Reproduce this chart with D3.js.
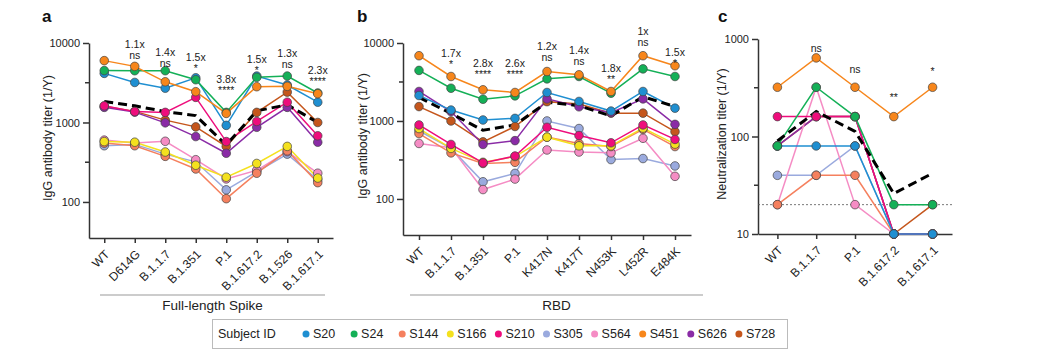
<!DOCTYPE html>
<html>
<head>
<meta charset="utf-8">
<script src="https://cdn.jsdelivr.net/npm/d3@7"></script>
<style>
  html, body { margin: 0; padding: 0; background: #fff; }
  svg { display: block; font-family: "Liberation Sans", Arial, Helvetica, sans-serif; }
</style>
</head>
<body>
<svg id="chart" width="1040" height="358"></svg>
<script>
// ---------------- DATA ----------------
const subjects = ["S20","S24","S144","S166","S210","S305","S564","S451","S626","S728"];
const subjectColors = ["#1f8fd1","#14b057","#f5805e","#f4e11e","#ee0d7c","#9aaade","#f58cc4","#f7861b","#8a2ba6","#c5561c"];
const drawOrder = ["S728","S626","S305","S564","S144","S166","S210","S20","S24","S451"];

// Panel a: full-length Spike IgG titers
const catsA = ["WT","D614G","B.1.1.7","B.1.351","P.1","B.1.617.2","B.1.526","B.1.617.1"];
const a_S20  = [4150, 3190, 2700, 3650, 920, 3840, 2960, 1800];
const a_S24  = [4500, 4480, 4480, 3450, 1340, 3700, 3840, 2350];
const a_S144 = [550, 510, 375, 260, 110, 230, 440, 175];
const a_S166 = [575, 565, 425, 290, 205, 305, 500, 200];
const a_S210 = [1620, 1370, 1340, 2070, 575, 1030, 1800, 680];
const a_S305 = [510, 530, 400, 320, 142, 240, 400, 190];
const a_S564 = [600, 550, 580, 340, 195, 250, 430, 230];
const a_S451 = [6000, 5080, 3250, 2440, 1300, 2820, 2850, 2300];
const a_S626 = [1550, 1350, 990, 665, 410, 870, 1550, 565];
const a_S728 = [1600, 1380, 1070, 880, 500, 1340, 2410, 1000];
const a_mean = [1840, 1620, 1370, 1220, 520, 1400, 1670, 1000];
const a_fold = ["", "1.1x", "1.4x", "1.5x", "3.8x", "1.5x", "1.3x", "2.3x"];
const a_sig  = ["", "ns", "ns", "*", "****", "*", "ns", "****"];
const a_labelAt = [null, 8650, 6960, 5920, 3150, 5580, 6650, 4020];

// Panel b: RBD IgG titers
const catsB = ["WT","B.1.1.7","B.1.351","P.1","K417N","K417T","N453K","L452R","E484K"];
const b_S20  = [2120, 1380, 1030, 1080, 2320, 1780, 1340, 2390, 1460];
const b_S24  = [4450, 2630, 1900, 2100, 3470, 3720, 2270, 4660, 3720];
const b_S144 = [690, 390, 285, 295, 620, 515, 470, 780, 470];
const b_S166 = [800, 445, 295, 350, 620, 480, 480, 810, 505];
const b_S210 = [890, 500, 290, 355, 830, 650, 525, 890, 580];
const b_S305 = [750, 445, 166, 213, 1000, 800, 320, 330, 265];
const b_S564 = [515, 455, 132, 180, 425, 400, 390, 600, 195];
const b_S451 = [6870, 3720, 2510, 2320, 4310, 3910, 2390, 6870, 5110];
const b_S626 = [2390, 1320, 500, 560, 1920, 1520, 1280, 1920, 905];
const b_S728 = [1530, 1000, 540, 850, 1770, 1650, 1260, 1260, 730];
const b_mean = [2000, 1250, 760, 890, 1740, 1570, 1160, 2050, 1530];
const b_fold = ["", "1.7x", "2.8x", "2.6x", "1.2x", "1.4x", "1.8x", "1x", "1.5x"];
const b_sig  = ["", "*", "****", "****", "ns", "ns", "**", "ns", "*"];
const b_labelAt = [null, 6640, 4940, 4940, 8250, 7180, 4260, 12490, 6830];

// Panel c: neutralization titers
const catsC = ["WT","B.1.1.7","P.1","B.1.617.2","B.1.617.1"];
const c_S20  = [80, 80, 80, 10, 10];
const c_S24  = [80, 320, 160, 20, 20];
const c_S144 = [20, 40, 40, 10, 10];
const c_S166 = [null, null, null, null, null];
const c_S210 = [160, 160, 160, 10, 10];
const c_S305 = [40, 40, 80, 10, 10];
const c_S564 = [20, 320, 20, 10, 10];
const c_S451 = [320, 640, 320, 160, 320];
const c_S626 = [80, 160, 160, 10, 10];
const c_S728 = [80, 160, 160, 10, 20];
const c_mean = [90, 180, 113, 26, 42];
const c_fold = ["", "", "", "", ""];
const c_sig  = ["", "ns", "ns", "**", "*"];
const c_labelAt = [null, 736, 448, 231, 423];
const c_limit = 20;

const yTicksAB = [100, 1000, 10000];
const yMinorAB = [316.2, 3162];
const yTicksC = [10, 100, 1000];
const yMinorC = [31.62, 316.2];

// ---------------- DRAWING ----------------
const svg = d3.select("#chart");
const colorOf = d3.scaleOrdinal(subjects, subjectColors);
const textCol = "#222";
const axisCol = "#333";

function panel(o) {
  const g = svg.append("g");
  const x = d3.scalePoint(o.cats, o.xr).padding(0.5);
  const y = d3.scaleLog(o.yd, o.yr);

  // y axis
  const ya = g.append("g").attr("transform", `translate(${o.xr[0]},0)`)
    .call(d3.axisLeft(y).tickValues(o.yTicks).tickFormat(d3.format("d")).tickSize(6).tickSizeOuter(0).tickPadding(3));
  ya.selectAll("text").attr("font-size", 11).attr("fill", textCol).attr("font-family", null);
  ya.selectAll("line,path").attr("stroke", axisCol).attr("stroke-width", 1.5);
  ya.selectAll(".minor").data(o.yMinor).enter().append("line")
    .attr("x1", -4).attr("x2", 0).attr("y1", d => y(d)).attr("y2", d => y(d))
    .attr("stroke", axisCol).attr("stroke-width", 1.5);

  // x axis
  const xa = g.append("g").attr("transform", `translate(0,${o.yr[0]})`)
    .call(d3.axisBottom(x).tickSize(5).tickSizeOuter(0).tickFormat(""));
  xa.selectAll("line,path").attr("stroke", axisCol).attr("stroke-width", 1.5);
  g.selectAll(".xl").data(o.cats).enter().append("text")
    .attr("transform", d => `translate(${x(d) + 6},${o.yr[0] + 17}) rotate(-45)`)
    .attr("text-anchor", "end").attr("font-size", 12).attr("fill", textCol).text(d => d);

  // limit line
  if (o.limit != null) {
    g.append("line").attr("x1", o.xr[0]).attr("x2", o.xr[1])
      .attr("y1", y(o.limit)).attr("y2", y(o.limit))
      .attr("stroke", "#555").attr("stroke-width", 0.8).attr("stroke-dasharray", "2,2");
  }

  const line = d3.line().defined(d => d.v != null).x(d => x(d.c)).y(d => y(d.v));
  const series = drawOrder.map(s => ({ s, pts: o.cats.map((c, i) => ({ c, v: o.data[s][i] })) }));

  series.forEach(se => {
    g.append("path").datum(se.pts).attr("d", line)
      .attr("fill", "none").attr("stroke", colorOf(se.s)).attr("stroke-width", 1.5);
  });

  // mean dashed
  g.append("path").datum(o.cats.map((c, i) => ({ c, v: o.mean[i] }))).attr("d", line)
    .attr("fill", "none").attr("stroke", "#000").attr("stroke-width", 3).attr("stroke-dasharray", "9,5");

  series.forEach(se => {
    g.selectAll(null).data(se.pts.filter(d => d.v != null)).enter().append("circle")
      .attr("cx", d => x(d.c)).attr("cy", d => y(d.v)).attr("r", 4.3)
      .attr("fill", colorOf(se.s)).attr("stroke", "#444").attr("stroke-width", 0.7);
  });

  // annotations
  o.cats.forEach((c, i) => {
    if (o.labelAt[i] == null) return;
    const yy = y(o.labelAt[i]);
    if (o.fold[i]) {
      g.append("text").attr("x", x(c)).attr("y", yy).attr("text-anchor", "middle")
        .attr("font-size", 10.5).attr("fill", textCol).text(o.fold[i]);
      g.append("text").attr("x", x(c)).attr("y", yy + 11).attr("text-anchor", "middle")
        .attr("font-size", 10.5).attr("fill", textCol).text(o.sig[i]);
    } else {
      g.append("text").attr("x", x(c)).attr("y", yy).attr("text-anchor", "middle")
        .attr("font-size", 10.5).attr("fill", textCol).text(o.sig[i]);
    }
  });

  // y title
  g.append("text").attr("transform", `translate(${o.titleX},${o.titleY}) rotate(-90)`)
    .attr("text-anchor", "middle").attr("font-size", 12.5).attr("fill", textCol).text(o.title);

  // panel letter
  svg.append("text").attr("x", o.letterX).attr("y", 22).attr("font-size", 17)
    .attr("font-weight", "bold").attr("fill", "#111").text(o.letter);

  // bracket
  if (o.bracket) {
    g.append("line").attr("x1", o.bracket[0]).attr("x2", o.bracket[1])
      .attr("y1", 295).attr("y2", 295).attr("stroke", "#999").attr("stroke-width", 1.2);
    g.append("text").attr("x", (o.bracket[0] + o.bracket[1]) / 2).attr("y", 310)
      .attr("text-anchor", "middle").attr("font-size", 13.5).attr("fill", textCol).text(o.bracketLabel);
  }
}

function collect(prefix) {
  const src = {
    a: {S20:a_S20,S24:a_S24,S144:a_S144,S166:a_S166,S210:a_S210,S305:a_S305,S564:a_S564,S451:a_S451,S626:a_S626,S728:a_S728},
    b: {S20:b_S20,S24:b_S24,S144:b_S144,S166:b_S166,S210:b_S210,S305:b_S305,S564:b_S564,S451:b_S451,S626:b_S626,S728:b_S728},
    c: {S20:c_S20,S24:c_S24,S144:c_S144,S166:c_S166,S210:c_S210,S305:c_S305,S564:c_S564,S451:c_S451,S626:c_S626,S728:c_S728}
  };
  return src[prefix];
}

panel({ cats: catsA, data: collect("a"), mean: a_mean, fold: a_fold, sig: a_sig, labelAt: a_labelAt,
  xr: [89, 333], yd: [35.2, 10000], yr: [238, 43], yTicks: yTicksAB, yMinor: yMinorAB,
  title: "IgG antibody titer (1/Y)", titleX: 52, titleY: 138, letter: "a", letterX: 42,
  bracket: [100, 325], bracketLabel: "Full-length Spike" });

panel({ cats: catsB, data: collect("b"), mean: b_mean, fold: b_fold, sig: b_sig, labelAt: b_labelAt,
  xr: [403, 691], yd: [34.5, 10000], yr: [235, 43], yTicks: yTicksAB, yMinor: yMinorAB,
  title: "IgG antibody titer (1/Y)", titleX: 367, titleY: 136, letter: "b", letterX: 357,
  bracket: [410, 703], bracketLabel: "RBD" });

panel({ cats: catsC, data: collect("c"), mean: c_mean, fold: c_fold, sig: c_sig, labelAt: c_labelAt,
  xr: [758, 952], yd: [10, 1000], yr: [234, 39], yTicks: yTicksC, yMinor: yMinorC, limit: c_limit,
  title: "Neutralization titer (1/Y)", titleX: 726, titleY: 134, letter: "c", letterX: 718 });

// legend
const lg = svg.append("g");
lg.append("rect").attr("x", 212.5).attr("y", 319.5).attr("width", 575).attr("height", 29)
  .attr("fill", "#fff").attr("stroke", "#bbb").attr("stroke-width", 1);
lg.append("text").attr("x", 218).attr("y", 338).attr("font-size", 12.5).attr("fill", textCol).text("Subject ID");
subjects.forEach((s, i) => {
  const cx = 306 + i * 48.1;
  lg.append("circle").attr("cx", cx).attr("cy", 334).attr("r", 3.5).attr("fill", colorOf(s));
  lg.append("text").attr("x", cx + 7).attr("y", 338).attr("font-size", 12.5).attr("fill", textCol).text(s);
});
</script>
</body>
</html>
